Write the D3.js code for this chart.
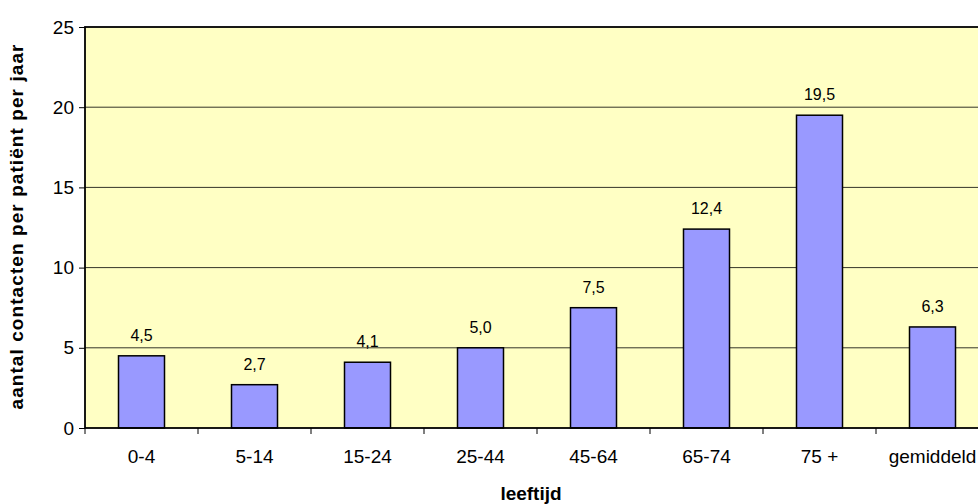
<!DOCTYPE html>
<html><head><meta charset="utf-8">
<script src="https://cdn.jsdelivr.net/npm/d3@7.9.0/dist/d3.min.js"></script>
<style>body{margin:0;background:#fff;font-family:"Liberation Sans",Arial,sans-serif;}</style>
</head><body><svg width="978" height="504"></svg>
<script>
const categories = ['0-4','5-14','15-24','25-44','45-64','65-74','75 +','gemiddeld'];
const values = [4.5,2.7,4.1,5.0,7.5,12.4,19.5,6.3];
const yTicks = [0,5,10,15,20,25];

const svg = d3.select('svg');
const pLeft = 85, pRight = 989, pTop = 27, pBottom = 428;
const x = d3.scaleBand().domain(categories).range([pLeft, pRight]);
const y = d3.scaleLinear().domain([0,25]).range([pBottom, pTop]);

svg.append('rect').attr('x', pLeft).attr('y', pTop).attr('width', pRight-pLeft).attr('height', pBottom-pTop)
  .attr('fill', '#ffffc4');

svg.selectAll('.grid').data(yTicks.slice(1,-1)).join('line')
  .attr('x1', pLeft).attr('x2', pRight).attr('y1', d=>y(d)).attr('y2', d=>y(d)).attr('stroke','#000').attr('stroke-width',0.8);

const bw = 46;
svg.selectAll('.bar').data(values).join('rect')
  .attr('x', (d,i)=>x(categories[i])+x.bandwidth()/2-bw/2)
  .attr('y', d=>y(d)).attr('width', bw).attr('height', d=>pBottom-y(d))
  .attr('fill','#9999ff').attr('stroke','#000').attr('stroke-width',1.5);

svg.append('rect').attr('x', pLeft).attr('y', pTop).attr('width', pRight-pLeft).attr('height', pBottom-pTop)
  .attr('fill', 'none').attr('stroke', '#000').attr('stroke-width',1.8);

svg.selectAll('.lbl').data(values).join('text')
  .attr('x', (d,i)=>x(categories[i])+x.bandwidth()/2).attr('y', d=>y(d)-15)
  .attr('text-anchor','middle').style('font-size','16px').text(d=>d3.format('.1f')(d).replace('.',','));

const yAxis = svg.append('g').attr('transform',`translate(${pLeft},0)`)
  .call(d3.axisLeft(y).tickValues(yTicks).tickSize(6).tickPadding(5).tickFormat(d=>d));
yAxis.select('.domain').remove();
yAxis.selectAll('text').style('font-size','19px').style('font-family','Liberation Sans');

const xAxis = svg.append('g').attr('transform',`translate(0,${pBottom})`)
  .call(d3.axisBottom(x).tickSize(0).tickPadding(22));
xAxis.select('.domain').remove();
xAxis.selectAll('text').style('font-size','19px').style('font-family','Liberation Sans');
svg.selectAll('.xt').data(categories.concat([''])).join('line')
  .attr('x1',(d,i)=>pLeft+i*x.bandwidth()).attr('x2',(d,i)=>pLeft+i*x.bandwidth())
  .attr('y1',pBottom).attr('y2',pBottom+6).attr('stroke','#000');

svg.append('text').attr('x',531).attr('y',500).attr('text-anchor','middle')
  .style('font-size','19px').attr('font-weight','bold').text('leeftijd');
svg.append('text').attr('transform','translate(23,227) rotate(-90)').attr('text-anchor','middle')
  .style('font-size','19px').attr('font-weight','bold').attr('textLength',365)
  .text('aantal contacten per patiënt per jaar');
</script></body></html>
